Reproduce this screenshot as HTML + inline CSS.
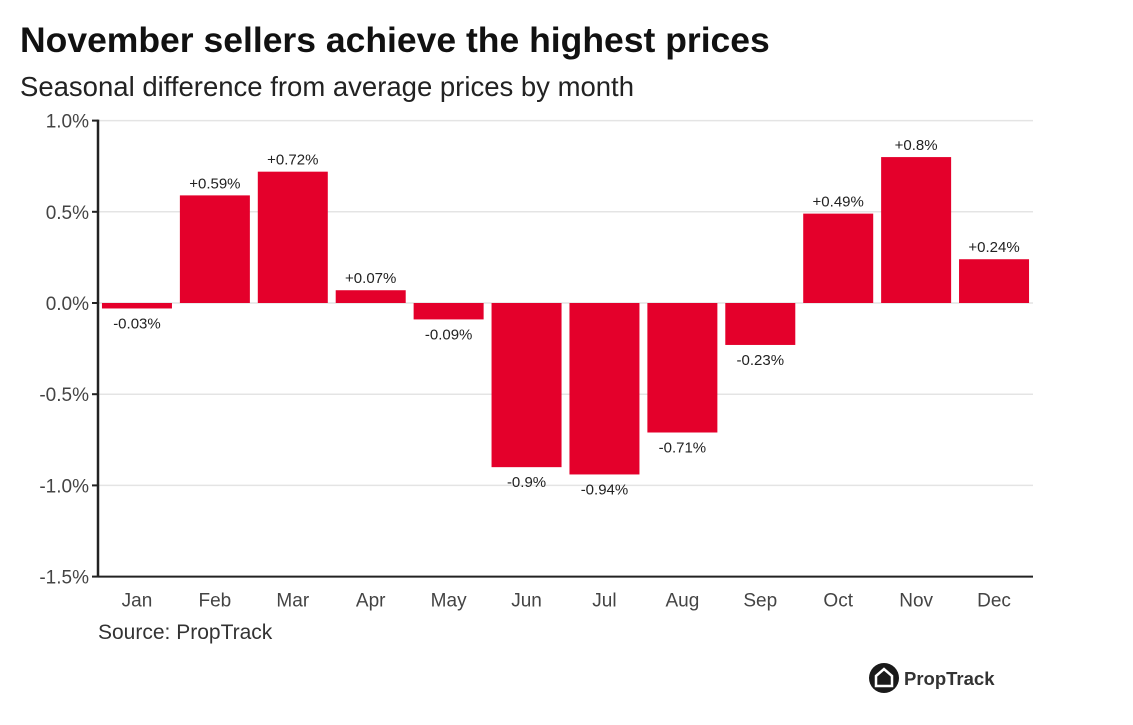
<!DOCTYPE html>
<html><head><meta charset="utf-8"><style>
body{margin:0;background:#fff;width:1133px;height:720px;overflow:hidden;font-family:"Liberation Sans",sans-serif;}
</style></head><body>
<svg id="chart" width="1133" height="720">
<text x="20" y="52" font-size="35.5" font-weight="bold" fill="#111">November sellers achieve the highest prices</text>
<text x="20" y="96" font-size="27.5" fill="#222">Seasonal difference from average prices by month</text>
<text x="98" y="639" font-size="21" fill="#333">Source: PropTrack</text>
<g>
<circle cx="884" cy="678" r="15" fill="#1a1a1a"/>
<path d="M876 686 L876 676 L884 669 L892 676 L892 686 Z" fill="none" stroke="#fff" stroke-width="2.5"/>
<text x="904" y="685" font-size="18.5" font-weight="bold" fill="#333">PropTrack</text>
</g>
<g id="grid"></g><g id="bars"></g><g id="axes"></g>
</svg>
<script>
const months=["Jan","Feb","Mar","Apr","May","Jun","Jul","Aug","Sep","Oct","Nov","Dec"];
const values=[-0.03,0.59,0.72,0.07,-0.09,-0.9,-0.94,-0.71,-0.23,0.49,0.8,0.24];
const labels=["-0.03%","+0.59%","+0.72%","+0.07%","-0.09%","-0.9%","-0.94%","-0.71%","-0.23%","+0.49%","+0.8%","+0.24%"];
const ticks=[1.0,0.5,0.0,-0.5,-1.0,-1.5];
const tickLabels=["1.0%","0.5%","0.0%","-0.5%","-1.0%","-1.5%"];
const NS="http://www.w3.org/2000/svg";
const x0=98,x1=1033,band=(x1-x0)/12;
const y=v=>303-(v*182.4);
function mk(t,a,p){const e=document.createElementNS(NS,t);for(const k in a)e.setAttribute(k,a[k]);p.appendChild(e);return e;}
const g=document.getElementById('grid'),b=document.getElementById('bars'),ax=document.getElementById('axes');
ticks.forEach((t,i)=>{
 const yy=y(t);
 if(t!==-1.5){const l=mk('line',{x1:x0,x2:x1,y1:yy,y2:yy,stroke:'#e4e4e4','stroke-width':1.5},g);
 
 }
 mk('line',{x1:x0-6,x2:x0,y1:yy,y2:yy,stroke:'#222','stroke-width':2},ax);
 const tx=mk('text',{x:x0-9,y:yy+7,'text-anchor':'end','font-size':19,fill:'#444'},ax);tx.textContent=tickLabels[i];
 
 
});
mk('line',{x1:x0,x2:x0,y1:y(1.0)-1,y2:y(-1.5),stroke:'#222','stroke-width':2.5},ax);
mk('line',{x1:x0,x2:x1,y1:y(-1.5),y2:y(-1.5),stroke:'#222','stroke-width':2},ax);
months.forEach((m,i)=>{
 const v=values[i],cx=x0+band*(i+0.5),w=70;
 const top=Math.min(y(v),y(0)),h=Math.abs(y(v)-y(0));
 const r=mk('rect',{x:cx-w/2,y:top,width:w,height:Math.max(h,1),fill:'#e4002b'},b);
 
 
 const ly=v>=0?y(v)-7:y(v)+20;
 const t=mk('text',{x:cx,y:ly,'text-anchor':'middle','font-size':15,fill:'#222'},b);t.textContent=labels[i];
 
 
 const xt=mk('text',{x:cx,y:y(-1.5)+30,'text-anchor':'middle','font-size':19,fill:'#444'},ax);xt.textContent=m;
 
 
});
</script>
</body></html>
